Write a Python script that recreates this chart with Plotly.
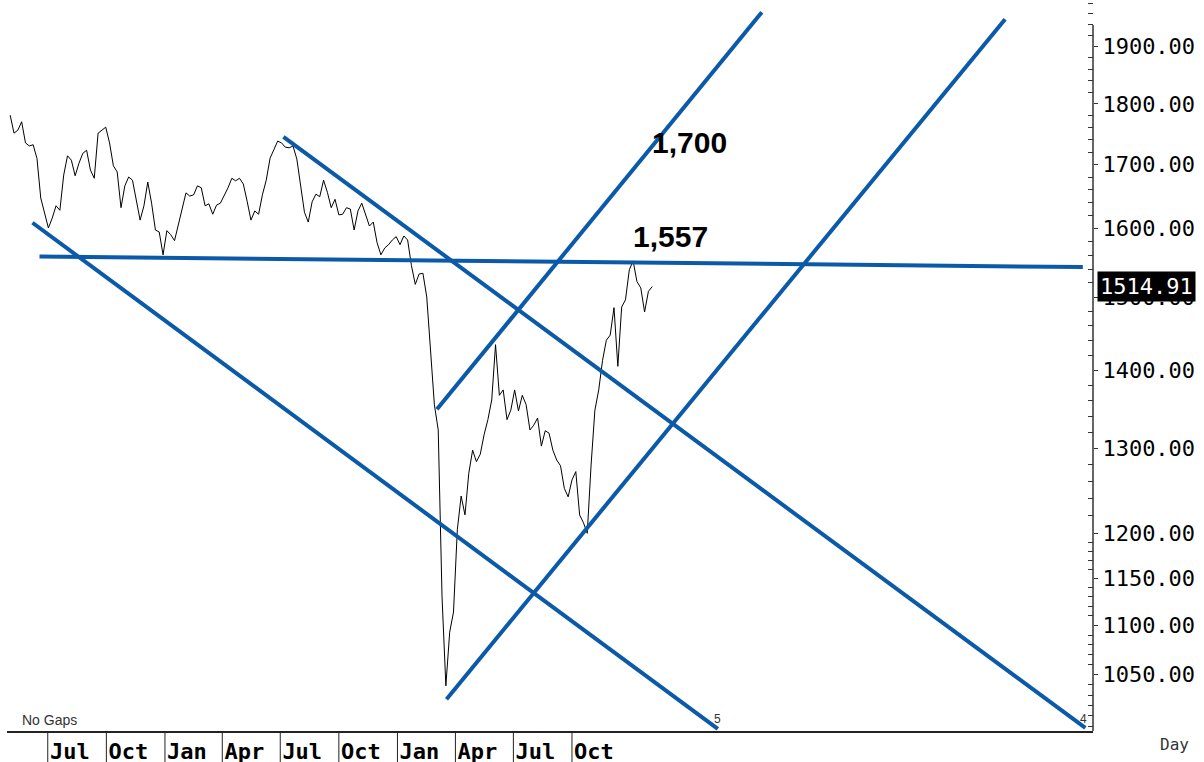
import numpy as np
import pandas as pd
import plotly.graph_objects as go

# ---- price series (one value every 6 calendar days) ----
series_start = "2018-05-03"
series_step = "6D"
values = [
    1781, 1751, 1756, 1770, 1735, 1730, 1732, 1710, 1647, 1622,
    1601, 1616, 1635, 1628, 1683, 1714, 1707, 1682, 1702, 1718,
    1723, 1691, 1678, 1751, 1756, 1761, 1735, 1698, 1688, 1632,
    1666, 1680, 1675, 1642, 1613, 1635, 1672, 1639, 1598, 1595,
    1561, 1597, 1591, 1582, 1607, 1632, 1655, 1650, 1652, 1666,
    1663, 1635, 1638, 1622, 1636, 1639, 1650, 1663, 1678, 1674,
    1678, 1669, 1642, 1613, 1627, 1622, 1652, 1675, 1710, 1725,
    1738, 1735, 1728, 1727, 1730, 1709, 1668, 1625, 1610, 1641,
    1653, 1649, 1675, 1656, 1632, 1645, 1621, 1622, 1632, 1630,
    1598, 1627, 1639, 1621, 1604, 1610, 1579, 1561, 1571, 1576,
    1583, 1588, 1576, 1589, 1583, 1545, 1518, 1533, 1534, 1500,
    1427, 1355, 1323, 1130, 1039, 1093, 1114, 1204, 1243, 1221,
    1270, 1298, 1284, 1293, 1317, 1336, 1361, 1434, 1367, 1374,
    1336, 1348, 1374, 1347, 1367, 1355, 1323, 1329, 1338, 1303,
    1322, 1319, 1298, 1286, 1279, 1252, 1242, 1262, 1272, 1221,
    1212, 1200, 1280, 1348, 1374, 1413, 1440, 1447, 1485, 1405,
    1486, 1496, 1539, 1552, 1522, 1513, 1479, 1508, 1514.91,
]
last_value = 1514.91

# ---- trend lines (start date/value, end date/value) ----
trend_start_dates = ["2018-06-18", "2019-07-06", "2018-06-07", "2020-03-03", "2020-03-18"]
trend_start_vals = [1558.5, 1745, 1609, 1349, 1026]
trend_end_dates = ["2022-12-12", "2022-12-16", "2021-05-18", "2021-07-26", "2022-08-12"]
trend_end_vals = [1543, 998.5, 997.6, 1963, 1950]

# ---- axis ticks ----
month_ticks = ["2018-07-01", "2018-10-01", "2019-01-01", "2019-04-01", "2019-07-01",
               "2019-10-01", "2020-01-01", "2020-04-01", "2020-07-01", "2020-10-01"]
month_labels = ["Jul", "Oct", "Jan", "Apr", "Jul", "Oct", "Jan", "Apr", "Jul", "Oct"]
price_ticks = [1050, 1100, 1150, 1200, 1300, 1400, 1500, 1600, 1700, 1800, 1900]
minor_ticks = [v for v in list(range(1000, 1200, 10)) + list(range(1200, 1990, 20))
               if v not in price_ticks]

BLUE = "#0b5aa9"
MONO = "DejaVu Sans Mono"

dates = pd.date_range(series_start, periods=len(values), freq=series_step)

fig = go.Figure()
fig.add_trace(go.Scatter(x=dates, y=values, mode="lines",
                         line=dict(color="black", width=1), hoverinfo="skip"))
for sd, sv, ed, ev in zip(trend_start_dates, trend_start_vals, trend_end_dates, trend_end_vals):
    fig.add_trace(go.Scatter(x=[sd, ed], y=[sv, ev], mode="lines",
                             line=dict(color=BLUE, width=4), hoverinfo="skip"))

# quarter separators below the axis
shapes = []
for d in month_ticks:
    shapes.append(dict(type="line", xref="x", yref="paper", x0=d, x1=d,
                       y0=0, y1=-31 / 731, line=dict(color="#222", width=1)))
# right axis line
shapes.append(dict(type="line", xref="paper", yref="paper", x0=1, x1=1,
                   y0=0, y1=1 - 25 / 731, line=dict(color="#333", width=1.5)))

annotations = [
    dict(text="1,700", xref="paper", yref="paper", x=0.6285, y=0.805,
         xanchor="center", yanchor="middle", showarrow=False,
         font=dict(family="Liberation Sans", size=30, color="black", weight="bold")),
    dict(text="1,557", xref="paper", yref="paper", x=0.6114, y=0.677,
         xanchor="center", yanchor="middle", showarrow=False,
         font=dict(family="Liberation Sans", size=30, color="black", weight="bold")),
    dict(text=f"{last_value:.2f}", xref="paper", yref="y", x=1.0497, y=np.log10(last_value),
         showarrow=False, bgcolor="black", borderpad=2, xanchor="center", yanchor="middle",
         font=dict(family=MONO, size=22, color="white")),
    dict(text="No Gaps", xref="paper", yref="paper", x=0.012, y=0.015,
         xanchor="left", yanchor="middle", showarrow=False,
         font=dict(family="Liberation Sans", size=14, color="#333")),
    dict(text="Day", xref="paper", yref="paper", x=1.0755, y=-0.019,
         xanchor="center", yanchor="middle", showarrow=False,
         font=dict(family=MONO, size=16, color="#333")),
    dict(text="5", xref="paper", yref="paper", x=0.6538, y=0.0164,
         xanchor="center", yanchor="middle", showarrow=False,
         font=dict(family="Liberation Sans", size=12, color="#333")),
    dict(text="4", xref="paper", yref="paper", x=0.9908, y=0.0164,
         xanchor="center", yanchor="middle", showarrow=False,
         font=dict(family="Liberation Sans", size=12, color="#333")),
]

fig.update_layout(
    width=1204, height=762,
    margin=dict(l=7, r=111, t=0, b=31),
    paper_bgcolor="white", plot_bgcolor="white",
    showlegend=False,
    shapes=shapes, annotations=annotations,
    xaxis=dict(type="date", range=["2018-04-28", "2022-12-28"], automargin=False,
               tickvals=month_ticks, ticktext=month_labels, ticks="",
               showgrid=False, zeroline=False, showline=True,
               linecolor="#222", linewidth=2, tickangle=0, ticklabelshift=22,
               tickfont=dict(family=MONO, size=22, color="black", weight="bold")),
    yaxis=dict(type="log", side="right", automargin=False,
               range=[np.log10(995.6), np.log10(1985.7)],
               tickvals=price_ticks, tickformat=".2f",
               ticks="outside", ticklen=4, tickcolor="#333",
               showline=False, showgrid=False, zeroline=False,
               tickfont=dict(family=MONO, size=22, color="black"),
               minor=dict(tickvals=minor_ticks, ticks="inside", ticklen=5,
                          tickcolor="#333", showgrid=False)),
)

fig.write_html("out.html", config={"displayModeBar": False},
               post_script="document.body.style.margin='0';document.body.style.overflow='hidden';")
